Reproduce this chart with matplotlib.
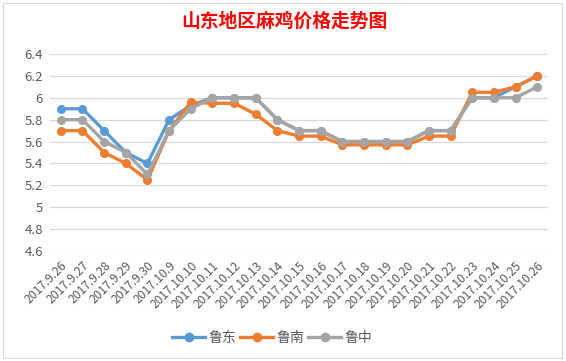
import matplotlib
matplotlib.use("Agg")
import matplotlib.pyplot as plt
from matplotlib.patches import Rectangle

plt.rcParams['font.family'] = ['Noto Sans CJK SC', 'DejaVu Sans']

dates = ["2017.9.26", "2017.9.27", "2017.9.28", "2017.9.29", "2017.9.30",
         "2017.10.9", "2017.10.10", "2017.10.11", "2017.10.12", "2017.10.13",
         "2017.10.14", "2017.10.15", "2017.10.16", "2017.10.17", "2017.10.18",
         "2017.10.19", "2017.10.20", "2017.10.21", "2017.10.22", "2017.10.23",
         "2017.10.24", "2017.10.25", "2017.10.26"]
ludong = [5.9, 5.9, 5.7, 5.5, 5.4, 5.8, 5.93, 6.0, 6.0, 6.0, 5.8, 5.7, 5.7,
          5.6, 5.6, 5.6, 5.6, 5.7, 5.7, 6.0, 6.0, 6.1, 6.2]
lunan = [5.7, 5.7, 5.5, 5.4, 5.25, 5.7, 5.96, 5.95, 5.95, 5.85, 5.7, 5.65, 5.65,
         5.57, 5.57, 5.57, 5.57, 5.65, 5.65, 6.05, 6.05, 6.1, 6.2]
luzhong = [5.8, 5.8, 5.6, 5.5, 5.3, 5.7, 5.9, 6.0, 6.0, 6.0, 5.8, 5.7, 5.7,
           5.6, 5.6, 5.6, 5.6, 5.7, 5.7, 6.0, 6.0, 6.0, 6.1]
series_names = ["鲁东", "鲁南", "鲁中"]
colors = ["#5B9BD5", "#ED7D31", "#A5A5A5"]
yticks = [4.6, 4.8, 5.0, 5.2, 5.4, 5.6, 5.8, 6.0, 6.2, 6.4]
ytick_labels = ["4.6", "4.8", "5", "5.2", "5.4", "5.6", "5.8", "6", "6.2", "6.4"]

fig = plt.figure(figsize=(5.66, 3.61), dpi=100)
fig.patch.set_facecolor("white")
fig.patches.append(Rectangle((3/566, 3/361), 559/566, 355/361, transform=fig.transFigure,
                             fill=False, edgecolor="#D9D9D9", linewidth=0.8))

ax = fig.add_axes([50/566, 1-251/361, 498/566, 197/361])
x = list(range(len(dates)))
for vals, name, c in zip([ludong, lunan, luzhong], series_names, colors):
    ax.plot(x, vals, color=c, linewidth=2.4, marker='o', markersize=5.5, label=name,
            solid_joinstyle='round')

ax.set_xlim(-0.5, len(dates) - 0.5)
ax.set_ylim(4.6, 6.4)
ax.set_yticks(yticks)
ax.set_yticklabels(ytick_labels)
ax.set_xticks(x)
ax.set_xticklabels(dates, rotation=45, ha='right', rotation_mode='anchor')
ax.tick_params(axis='both', length=0, labelcolor="#595959")
ax.tick_params(axis='x', pad=6, labelsize=8.7)
ax.tick_params(axis='y', pad=5, labelsize=9.5)
ax.grid(axis='y', color="#D9D9D9", linewidth=0.9)
ax.set_axisbelow(True)
for s in ax.spines.values():
    s.set_visible(False)

fig.text(284/566, 1-21/361, "山东地区麻鸡价格走势图", color="#FF0000", fontsize=13.5,
         fontweight='bold', ha='center', va='center')

leg = fig.legend(loc='center', bbox_to_anchor=(272/566, 1-338/361), ncol=3, frameon=False,
                 fontsize=10, handlelength=2.4, columnspacing=0.3, handletextpad=0.2,
                 markerscale=1.1)
for t in leg.get_texts():
    t.set_color("#595959")

fig.savefig("out.png", dpi=100)
